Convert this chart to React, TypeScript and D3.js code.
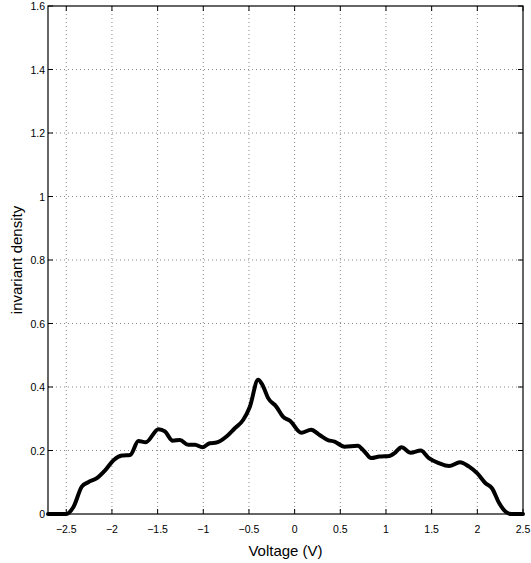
import React from "react";
import * as d3 from "d3";

const voltage = [
  -2.7, -2.5, -2.42, -2.33, -2.26, -2.165, -2.07, -1.98, -1.89, -1.8, -1.71, -1.63,
  -1.49, -1.42, -1.335, -1.255, -1.165, -1.09, -1.01, -0.93, -0.855, -0.746, -0.655,
  -0.564, -0.49, -0.4, -0.353, -0.29, -0.2, -0.128, -0.045, 0.073, 0.18, 0.273, 0.364,
  0.437, 0.546, 0.69, 0.764, 0.837, 0.928, 1.037, 1.09, 1.17, 1.27, 1.38, 1.47, 1.58,
  1.69, 1.81, 1.91, 2.0, 2.09, 2.16, 2.24, 2.31, 2.37, 2.5,
];
const density = [
  0, 0, 0.023, 0.086, 0.1, 0.113, 0.139, 0.17, 0.184, 0.186, 0.23, 0.226,
  0.267, 0.26, 0.231, 0.233, 0.218, 0.218, 0.21, 0.223, 0.225, 0.244, 0.27,
  0.296, 0.338, 0.423, 0.407, 0.365, 0.338, 0.307, 0.292, 0.256, 0.265, 0.249, 0.233,
  0.228, 0.212, 0.215, 0.197, 0.176, 0.181, 0.183, 0.191, 0.21, 0.193, 0.2, 0.176, 0.16,
  0.151, 0.163, 0.149, 0.128, 0.097, 0.081, 0.034, 0.007, 0, 0,
];
const xTicks = [-2.5, -2, -1.5, -1, -0.5, 0, 0.5, 1, 1.5, 2, 2.5];
const yTicks = [0, 0.2, 0.4, 0.6, 0.8, 1, 1.2, 1.4, 1.6];

const W = 531;
const H = 563;
const L = 48;
const R = 523;
const T = 6;
const B = 514;

const fmt = (v: number) => (v < 0 ? "\u2212" + String(Math.abs(v)) : String(v));

export default function App() {
  const x = d3.scaleLinear().domain([-2.7, 2.5]).range([L, R]);
  const y = d3.scaleLinear().domain([0, 1.6]).range([B, T]);
  const pts: [number, number][] = voltage.map((v, i) => [v, density[i]]);
  const line = d3
    .line<[number, number]>()
    .x((d) => x(d[0]))
    .y((d) => y(d[1]))
    .curve(d3.curveMonotoneX);
  const font = "'Liberation Sans', Arial, Helvetica, sans-serif";
  const tl = 5;
  return (
    <svg width={W} height={H} style={{ position: "absolute", left: 0, top: 0, background: "#fff" }}>
      <rect x={0} y={0} width={W} height={H} fill="#fff" />
      {/* grid */}
      {xTicks.filter((t) => x(t) < R - 1).map((t) => (
        <line key={"gx" + t} x1={x(t)} x2={x(t)} y1={T} y2={B} stroke="#888" strokeWidth={1} strokeDasharray="1,3" />
      ))}
      {yTicks.filter((t) => t > 0 && t < 1.6).map((t) => (
        <line key={"gy" + t} x1={L} x2={R} y1={y(t)} y2={y(t)} stroke="#888" strokeWidth={1} strokeDasharray="1,3" />
      ))}
      {/* curve */}
      <path d={line(pts) || ""} fill="none" stroke="#000" strokeWidth={4} strokeLinejoin="round" strokeLinecap="round" />
      {/* box */}
      <rect x={L} y={T} width={R - L} height={B - T} fill="none" stroke="#000" strokeWidth={1.2} />
      {/* ticks */}
      {xTicks.map((t) => (
        <g key={"tx" + t}>
          <line x1={x(t)} x2={x(t)} y1={B} y2={B - tl} stroke="#000" />
          <line x1={x(t)} x2={x(t)} y1={T} y2={T + tl} stroke="#000" />
          <text x={x(t)} y={533} textAnchor="middle" fontFamily={font} fontSize={10.5} fill="#000">
            {fmt(t)}
          </text>
        </g>
      ))}
      {yTicks.map((t) => (
        <g key={"ty" + t}>
          <line x1={L} x2={L + tl} y1={y(t)} y2={y(t)} stroke="#000" />
          <line x1={R} x2={R - tl} y1={y(t)} y2={y(t)} stroke="#000" />
          <text x={45} y={y(t) + 4} textAnchor="end" fontFamily={font} fontSize={10.5} fill="#000">
            {fmt(t)}
          </text>
        </g>
      ))}
      <text x={(L + R) / 2} y={556} textAnchor="middle" fontFamily={font} fontSize={15} fill="#000">
        Voltage (V)
      </text>
      <text
        transform={`translate(22, ${(T + B) / 2}) rotate(-90)`}
        textAnchor="middle"
        fontFamily={font}
        fontSize={15}
        fill="#000"
      >
        invariant density
      </text>
    </svg>
  );
}
